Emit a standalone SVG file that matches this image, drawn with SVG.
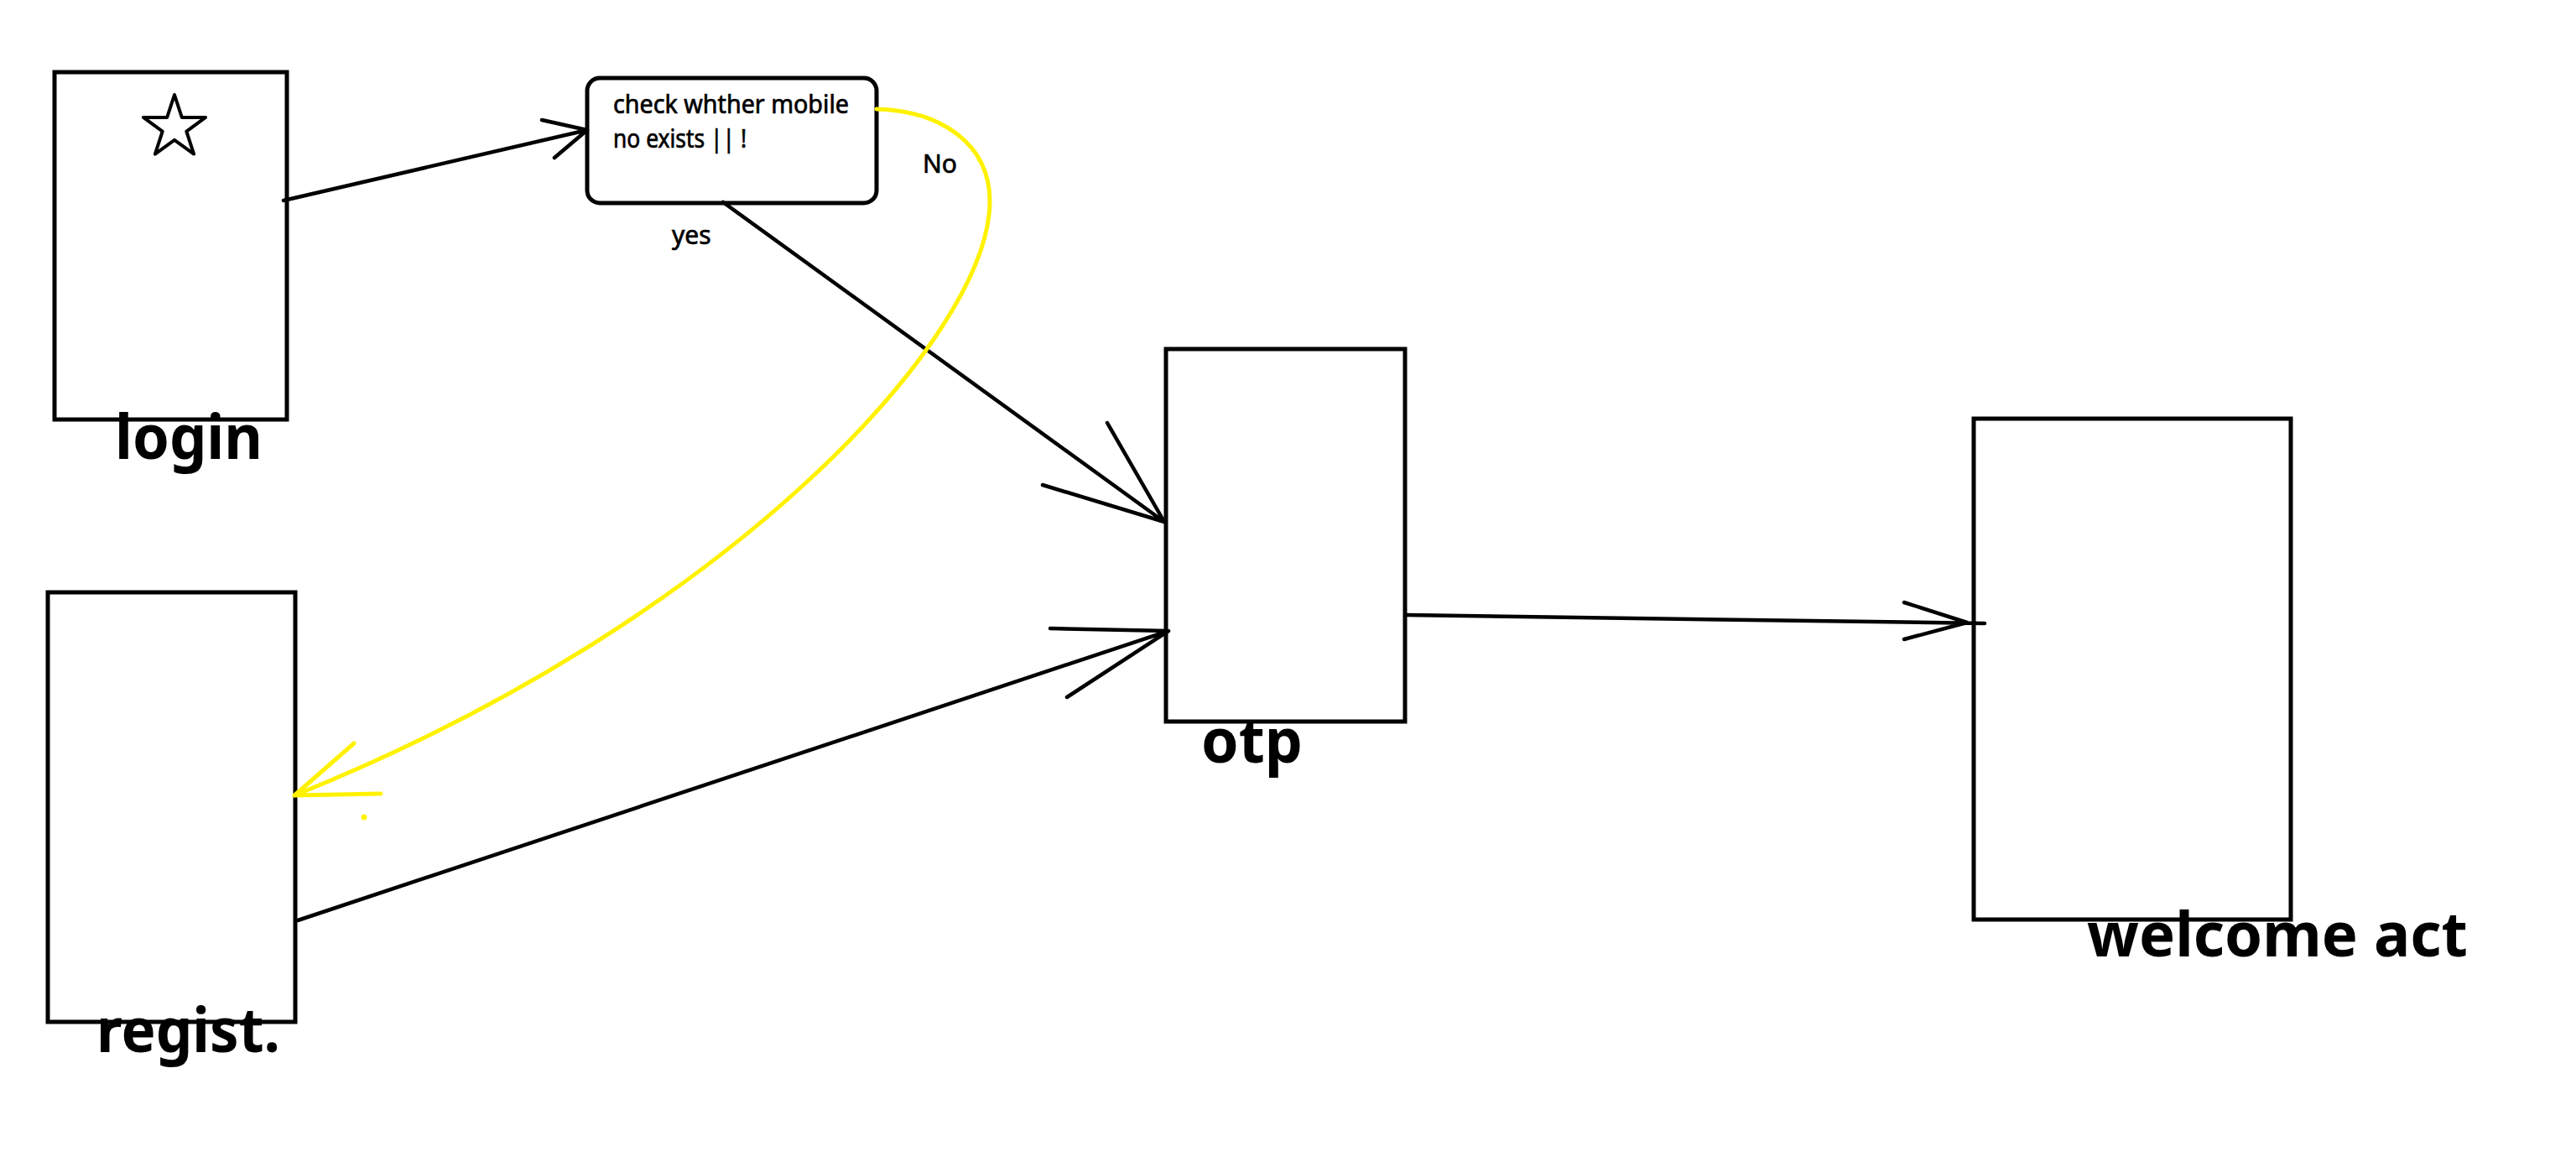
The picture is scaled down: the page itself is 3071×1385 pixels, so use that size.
<svg xmlns="http://www.w3.org/2000/svg" width="3071" height="1385" viewBox="0 0 3071 1385">
<style>
.box{fill:#fff;stroke:#000;stroke-width:5}
.ln{fill:none;stroke:#000;stroke-width:4.5;stroke-linecap:round;stroke-linejoin:round}
.yl{fill:none;stroke:#fff200;stroke-width:5;stroke-linecap:round;stroke-linejoin:round}
.big{font-family:"Noto Sans","Open Sans","Liberation Sans",sans-serif;font-weight:700;font-size:74px;fill:#000}
.sm{font-family:"Noto Sans","Open Sans","Liberation Sans",sans-serif;font-weight:400;font-size:30px;fill:#000;stroke:#000;stroke-width:0.7}
</style>
<rect width="3071" height="1385" fill="#fff"/>
<g id="login">
<rect class="box" x="65" y="86" width="277" height="414"/>
<polygon points="208,113 216.8,139.9 245.1,139.9 222.3,156.6 231.1,183.6 208,166.9 184.9,183.6 193.7,156.6 170.9,139.9 199.2,139.9" fill="none" stroke="#000" stroke-width="4" stroke-linejoin="round"/>
<text class="big" x="137" y="547" textLength="176" lengthAdjust="spacingAndGlyphs">login</text>
</g>
<g id="check">
<rect class="box" x="700" y="93" width="345" height="149" rx="15"/>
<text class="sm" x="731" y="135" textLength="281" lengthAdjust="spacingAndGlyphs">check whther mobile</text>
<text class="sm" x="731" y="176" textLength="159" lengthAdjust="spacingAndGlyphs">no exists || !</text>
</g>
<g id="regist">
<rect class="box" x="57" y="706" width="295" height="512"/>
<text class="big" x="115" y="1254" textLength="219" lengthAdjust="spacingAndGlyphs">regist.</text>
</g>
<g id="otp">
<rect class="box" x="1390" y="416" width="285" height="444"/>
<text class="big" x="1432" y="909" textLength="121" lengthAdjust="spacingAndGlyphs">otp</text>
</g>
<g id="welcome">
<rect class="box" x="2353" y="499" width="378" height="597"/>
<text class="big" x="2488" y="1140" textLength="454" lengthAdjust="spacingAndGlyphs">welcome act</text>
</g>
<g id="connectors">
<path class="ln" d="M338,239 L700,155 M646,143 L700,155 M661,188 L700,155"/>
<path class="ln" d="M862,241 L1388,622 M1320,504 L1388,622 M1243,578 L1388,622"/>
<path class="ln" d="M355,1097 L1393,752 M1252,749 L1393,752 M1272,831 L1393,752"/>
<path class="ln" d="M1677,733 L2366,743 M2270,718 L2345,742 M2270,762 L2345,742"/>
<path class="yl" d="M1045,130 C1120,132 1180,170 1180,240 C1180,400 870,740 351,948 M422,886 L351,948 M454,946 L351,948"/>
<circle cx="434" cy="974" r="3.5" fill="#fff200"/>
<text class="sm" x="1100" y="206">No</text>
<text class="sm" x="801" y="291">yes</text>
</g>
</svg>
